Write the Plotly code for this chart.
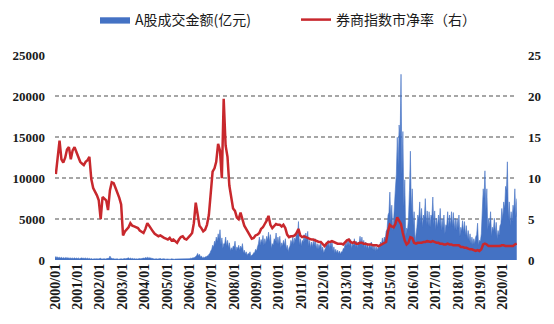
import pandas as pd
import plotly.graph_objects as go

# ---------------- data (monthly readings, 2000/01 - 2020/08) ----------------
# A股成交金额 (亿元): monthly high / base readings of the daily series
vol_hi = [
    420, 380, 350, 330, 300, 300, 320, 280, 260, 250, 260, 240,      # 2000
    250, 220, 260, 240, 250, 230, 200, 180, 150, 150, 170, 160,      # 2001
    200, 150, 160, 180, 200, 480, 250, 180, 150, 140, 130, 150,      # 2002
    150, 180, 200, 260, 230, 200, 180, 160, 150, 170, 200, 230,      # 2003
    300, 350, 320, 280, 200, 150, 140, 160, 180, 150, 160, 140,      # 2004
    130, 150, 140, 130, 120, 180, 150, 200, 190, 150, 160, 200,      # 2005
    220, 260, 300, 450, 800, 700, 500, 350, 400, 500, 700, 1100,     # 2006
    1800, 2300, 2800, 3200, 3700, 2700, 2000, 2800, 2400, 2100, 1500, 1700,  # 2007
    2300, 1600, 1800, 1700, 2000, 1200, 1000, 800, 1000, 600, 900, 1300,     # 2008
    1600, 2800, 2500, 3000, 2600, 2900, 3400, 3100, 2000, 2600, 3300, 2800,  # 2009
    2900, 2100, 2400, 2600, 1800, 1500, 2400, 2800, 2700, 3500, 4700, 2600,  # 2010
    2400, 3100, 3300, 3500, 2400, 2200, 2300, 2600, 2000, 1900, 2100, 1600,  # 2011
    1200, 2200, 2400, 2200, 2300, 1600, 1300, 1200, 1100, 1000, 1400, 2000,  # 2012
    2400, 2600, 2500, 2000, 2600, 2300, 2200, 2900, 2800, 2400, 2200, 2000,  # 2013
    1900, 2200, 1900, 1700, 1600, 1700, 2200, 2700, 2800, 3500, 5500, 8300,  # 2014
    6700, 5000, 8700, 15000, 16500, 22700, 15700, 9800, 3900, 5100, 13300, 8700,  # 2015
    5900, 3100, 5500, 7100, 6300, 5500, 7500, 6000, 5900, 5500, 7700, 6000,  # 2016
    5100, 5500, 6300, 5000, 5500, 4300, 5900, 5500, 5900, 5800, 5100, 5000,  # 2017
    5500, 4000, 4800, 4700, 4200, 3600, 3200, 2800, 2600, 2800, 4500, 2400,  # 2018
    3200, 8700, 10900, 8700, 5100, 5900, 4000, 5100, 4600, 3600, 4200, 6300, # 2019
    7100, 9000, 12000, 7100, 5900, 6700, 8700, 7500,                          # 2020
]
vol_lo = [
    300, 270, 250, 230, 210, 210, 220, 200, 180, 180, 180, 170,
    180, 150, 180, 170, 180, 160, 140, 130, 110, 110, 120, 110,
    140, 110, 110, 130, 140, 200, 170, 130, 110, 100, 90, 110,
    110, 130, 140, 180, 160, 140, 130, 110, 110, 120, 140, 160,
    210, 240, 220, 200, 140, 110, 100, 110, 120, 110, 110, 100,
    90, 100, 100, 90, 85, 120, 110, 140, 130, 110, 110, 140,
    160, 180, 210, 320, 550, 480, 350, 250, 280, 350, 500, 800,
    1300, 1600, 2000, 2300, 2600, 1900, 1400, 2000, 1700, 1500, 1100, 1200,
    1600, 1100, 1300, 1200, 1400, 850, 700, 550, 700, 420, 650, 900,
    1100, 2000, 1800, 2100, 1800, 2000, 2400, 2200, 1400, 1800, 2300, 2000,
    2000, 1500, 1700, 1800, 1300, 1000, 1700, 2000, 1900, 2400, 3000, 1800,
    1700, 2200, 2300, 2400, 1700, 1500, 1600, 1800, 1400, 1300, 1500, 1100,
    850, 1500, 1700, 1500, 1600, 1100, 900, 850, 750, 700, 1000, 1400,
    1700, 1800, 1700, 1400, 1800, 1600, 1500, 2000, 2000, 1700, 1500, 1400,
    1300, 1500, 1300, 1200, 1100, 1200, 1500, 1900, 2000, 2500, 3800, 5800,
    4800, 3600, 6200, 10500, 11500, 15000, 10500, 6500, 2900, 3700, 8500, 6000,
    4200, 2300, 4000, 5000, 4500, 4000, 5200, 4300, 4200, 4000, 5300, 4300,
    3700, 4000, 4400, 3600, 3900, 3200, 4200, 4000, 4200, 4100, 3700, 3600,
    3900, 2900, 3500, 3400, 3000, 2600, 2300, 2000, 1900, 2000, 3100, 1800,
    2300, 6000, 7500, 6000, 3700, 4200, 2900, 3600, 3300, 2600, 3000, 4400,
    5000, 6300, 8500, 5000, 4200, 4700, 6000, 5300,
]
# 券商指数市净率 (右轴), monthly readings
pb = [
    10.5, 12.8, 14.6, 12.3, 11.9, 12.5, 13.5, 13.8, 12.3, 13.4, 13.8, 13.2,  # 2000
    12.6, 12.0, 11.8, 11.6, 12.0, 12.2, 12.6, 9.9, 8.8, 8.4, 7.9, 7.3,       # 2001
    5.0, 7.7, 7.5, 7.3, 6.1, 8.5, 9.5, 9.4, 8.8, 8.3, 7.6, 6.8,              # 2002
    3.0, 3.5, 3.7, 4.0, 4.5, 4.2, 4.1, 4.0, 3.9, 3.6, 3.4, 3.3,              # 2003
    3.8, 4.5, 4.2, 3.8, 3.5, 3.2, 3.0, 2.9, 3.0, 2.8, 2.7, 2.6,              # 2004
    2.5, 2.7, 2.4, 2.5, 2.3, 2.1, 2.5, 2.8, 2.9, 2.6, 2.5, 2.7,              # 2005
    3.0, 3.3, 4.5, 7.0, 5.5, 4.2, 3.9, 3.5, 3.7, 4.3, 5.5, 8.5,              # 2006
    10.8, 11.2, 12.0, 14.2, 13.4, 10.0, 19.7, 14.0, 12.6, 9.1, 7.5, 6.3,     # 2007
    6.0, 5.2, 5.0, 5.8, 5.0, 4.2, 3.8, 3.4, 3.0, 2.6, 2.7, 3.0,              # 2008
    3.1, 3.3, 3.8, 4.0, 4.4, 4.8, 5.4, 4.3, 3.9, 4.2, 4.4, 4.3,              # 2009
    4.3, 4.1, 4.3, 3.9, 3.1, 2.8, 2.9, 2.9, 3.0, 3.3, 3.8, 3.0,              # 2010
    2.8, 2.9, 2.8, 2.7, 2.6, 2.5, 2.5, 2.4, 2.3, 2.2, 2.2, 1.9,              # 2011
    1.7, 2.0, 2.2, 2.2, 2.3, 2.2, 2.1, 2.0, 2.0, 2.0, 1.9, 2.2,              # 2012
    2.4, 2.5, 2.2, 2.1, 2.2, 2.0, 2.0, 2.1, 2.1, 2.0, 2.0, 1.9,              # 2013
    1.9, 1.9, 1.8, 1.8, 1.8, 1.7, 1.8, 1.9, 2.0, 2.2, 3.5, 4.3,              # 2014
    4.1, 4.0, 4.4, 5.2, 4.8, 4.4, 3.3, 2.4, 1.9, 2.1, 2.8, 2.7,              # 2015
    2.1, 2.0, 2.1, 2.1, 2.1, 2.2, 2.2, 2.3, 2.2, 2.2, 2.3, 2.2,              # 2016
    2.1, 2.1, 2.0, 2.0, 1.9, 1.9, 2.0, 1.9, 1.9, 1.8, 1.8, 1.8,              # 2017
    1.8, 1.6, 1.6, 1.5, 1.5, 1.4, 1.3, 1.3, 1.2, 1.1, 1.2, 1.1,              # 2018
    1.3, 1.9, 2.0, 1.9, 1.7, 1.7, 1.7, 1.7, 1.7, 1.7, 1.7, 1.8,              # 2019
    1.8, 1.7, 1.7, 1.7, 1.7, 1.7, 1.9, 2.0,                                  # 2020
]
years = list(range(2000, 2021))
tick_labels = [f"{y}/01" for y in years]
left_ticks = [0, 5000, 10000, 15000, 20000, 25000]
right_ticks = [0, 5, 10, 15, 20, 25]
name_vol = "A股成交金额(亿元)"
name_pb = "券商指数市净率（右）"

# ---------------- build traces ----------------
months = pd.date_range("2000-01-01", periods=len(pb), freq="MS")
vol_x, vol_y = [], []
for m, lo, hi in zip(months, vol_lo, vol_hi):
    vol_x += [m, m + pd.Timedelta(days=15)]
    vol_y += [lo, hi]
pb_x = [m + pd.Timedelta(days=14) for m in months]

BLUE = "#4472C4"
RED = "#C8282D"
TXT = "#1a1a1a"
SERIF = "Liberation Serif"
CJK = "Noto Sans CJK SC"

fig = go.Figure()
fig.add_trace(go.Scatter(
    x=vol_x, y=vol_y, name=name_vol, mode="lines",
    fill="tozeroy", fillcolor=BLUE, line=dict(color=BLUE, width=0.6),
    legend="legend",
))
fig.add_trace(go.Scatter(
    x=pb_x, y=pb, name=name_pb, mode="lines", yaxis="y2",
    line=dict(color=RED, width=2.5), legend="legend2",
))

tick_font = dict(family=SERIF, size=13, color=TXT, weight="bold")
fig.update_layout(
    width=554, height=324,
    margin=dict(l=53, r=36, t=48, b=64),
    paper_bgcolor="white", plot_bgcolor="white",
    xaxis=dict(
        range=[pd.Timestamp("2000-01-01"), pd.Timestamp("2020-08-20")],
        tickvals=[pd.Timestamp(f"{y}-01-01") for y in years],
        ticktext=tick_labels, tickangle=-90,
        tickfont=dict(family=SERIF, size=14, color=TXT, weight="bold"),
        showgrid=False, zeroline=False, showline=False, ticks="",
    ),
    yaxis=dict(
        range=[0, 25000], tickvals=left_ticks,
        ticktext=[str(v) for v in left_ticks],
        tickfont=tick_font,
        showgrid=True, gridcolor="#A6A6A6", gridwidth=1.5, griddash="4px,3px",
        zeroline=False, showline=False, ticks="", ticklabelstandoff=9,
    ),
    yaxis2=dict(
        range=[0, 25], tickvals=right_ticks,
        ticktext=[str(v) for v in right_ticks],
        overlaying="y", side="right",
        tickfont=tick_font,
        showgrid=False, zeroline=False, showline=False, ticks="", ticklabelstandoff=10,
    ),
    legend=dict(
        xref="container", yref="container", x=95 / 554, y=1 - 20 / 324,
        xanchor="left", yanchor="middle", orientation="h",
        font=dict(family=CJK, size=14, color=TXT), bgcolor="rgba(0,0,0,0)",
        itemwidth=30,
    ),
    legend2=dict(
        xref="container", yref="container", x=296 / 554, y=1 - 20 / 324,
        xanchor="left", yanchor="middle", orientation="h",
        font=dict(family=CJK, size=14, color=TXT), bgcolor="rgba(0,0,0,0)",
        itemwidth=30,
    ),
    showlegend=True,
)

fig.write_html("out.html")
